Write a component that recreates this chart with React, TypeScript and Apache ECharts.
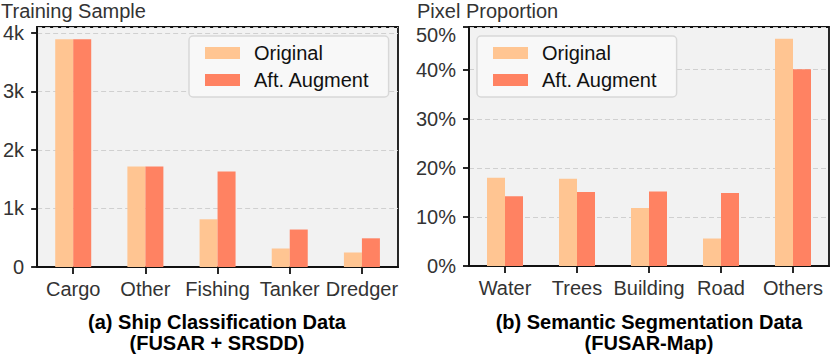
import React, { useEffect, useRef } from "react";
import * as echarts from "echarts";

const shipCategories = ["Cargo", "Other", "Fishing", "Tanker", "Dredger"];
const shipOriginal = [3890, 1716, 815, 316, 248];
const shipAugmented = [3890, 1716, 1630, 640, 490];

const segCategories = ["Water", "Trees", "Building", "Road", "Others"];
const segOriginal = [18.0, 17.8, 11.8, 5.6, 46.3];
const segAugmented = [14.2, 15.1, 15.2, 14.9, 40.1];

const seriesNames = ["Original", "Aft. Augment"];
const colors = ["#FFC592", "#FF8262"];

const FONT = "'Liberation Sans', Arial, Helvetica, sans-serif";

export default function App() {
  const ref = useRef<HTMLDivElement>(null);
  useEffect(() => {
    if (!ref.current) return;
    const chart = echarts.init(ref.current, undefined, { renderer: "svg" });
    const labelStyle = { color: "#333", fontSize: 20, fontFamily: FONT };
    const gridCommon = {
      show: true,
      backgroundColor: "#f2f2f2",
      borderColor: "#111",
      borderWidth: 1.8,
    };
    const xAxisCommon = (idx: number, data: string[]) => ({
      type: "category" as const,
      gridIndex: idx,
      data,
      axisLine: { show: true, lineStyle: { color: "#111", width: 1.8 } },
      axisTick: { show: true, alignWithLabel: true, interval: 0, length: 7, lineStyle: { color: "#111", width: 1.8 } },
      axisLabel: { ...labelStyle, margin: 12, interval: 0, hideOverlap: false },
      splitLine: { show: false },
    });
    const legendCommon = {
      orient: "vertical" as const,
      top: 36,
      padding: [7, 19, 7, 16],
      itemWidth: 35,
      itemHeight: 12,
      itemGap: 7,
      icon: "rect",
      backgroundColor: "#f8f8f8",
      borderColor: "#d8d8d8",
      borderWidth: 1.5,
      borderRadius: 4,
      textStyle: { ...labelStyle, color: "#111", lineHeight: 20, padding: [0, 0, 0, 9] },
      data: seriesNames,
    };
    const barCommon = { type: "bar" as const, barWidth: 18, barGap: "0%" };
    chart.setOption({
      animation: false,
      textStyle: { fontFamily: FONT },
      title: [
        { text: "Training Sample", left: 1, top: 1, padding: 0, textStyle: { ...labelStyle, fontWeight: "normal", lineHeight: 20 } },
        { text: "Pixel Proportion", left: 417, top: 1, padding: 0, textStyle: { ...labelStyle, fontWeight: "normal", lineHeight: 20 } },
        {
          text: "(a) Ship Classification Data\n(FUSAR + SRSDD)",
          left: 217, top: 311, padding: 0, textAlign: "center",
          textStyle: { color: "#000", fontSize: 20, fontWeight: "bold", fontFamily: FONT, lineHeight: 21 },
        },
        {
          text: "(b) Semantic Segmentation Data\n(FUSAR-Map)",
          left: 649, top: 311, padding: 0, textAlign: "center",
          textStyle: { color: "#000", fontSize: 20, fontWeight: "bold", fontFamily: FONT, lineHeight: 21 },
        },
      ],
      legend: [
        { ...legendCommon, left: 189 },
        { ...legendCommon, left: 477 },
      ],
      grid: [
        { ...gridCommon, left: 36, top: 27, width: 362, height: 240 },
        { ...gridCommon, left: 469, top: 27, width: 360, height: 239 },
      ],
      xAxis: [xAxisCommon(0, shipCategories), xAxisCommon(1, segCategories)],
      yAxis: [
        {
          type: "value", gridIndex: 0, min: 0, max: 4100, interval: 1000,
          axisLine: { show: true, lineStyle: { color: "#111", width: 1.8 } },
          axisTick: { show: true, length: 6, lineStyle: { color: "#111", width: 1.8 } },
          axisLabel: {
            ...labelStyle, margin: 13, showMaxLabel: false,
            formatter: (v: number) => (v === 0 ? "0" : v / 1000 + "k"),
          },
          splitLine: { show: true, lineStyle: { color: "#d0d0d0", type: [5, 3], width: 1 } },
        },
        {
          type: "value", gridIndex: 1, min: 0, max: 48.7, interval: 10,
          axisLine: { show: true, lineStyle: { color: "#111", width: 1.8 } },
          axisTick: { show: true, length: 6, lineStyle: { color: "#111", width: 1.8 } },
          axisLabel: {
            ...labelStyle, margin: 13,
            formatter: (v: number) => (v > 45 ? "{t|50%}" : Math.round(v) + "%"),
            rich: { t: { ...labelStyle, padding: [16, 0, 0, 0] } },
          },
          splitLine: { show: true, lineStyle: { color: "#d0d0d0", type: [5, 3], width: 1 } },
        },
      ],
      series: [
        { ...barCommon, name: seriesNames[0], xAxisIndex: 0, yAxisIndex: 0, data: shipOriginal, itemStyle: { color: colors[0] } },
        { ...barCommon, name: seriesNames[1], xAxisIndex: 0, yAxisIndex: 0, data: shipAugmented, itemStyle: { color: colors[1] } },
        { ...barCommon, name: seriesNames[0], xAxisIndex: 1, yAxisIndex: 1, data: segOriginal, itemStyle: { color: colors[0] } },
        { ...barCommon, name: seriesNames[1], xAxisIndex: 1, yAxisIndex: 1, data: segAugmented, itemStyle: { color: colors[1] } },
      ],
    });
    return () => chart.dispose();
  }, []);
  return (
    <div
      ref={ref}
      style={{ position: "absolute", left: 0, top: 0, width: 831, height: 358, background: "#fff" }}
    />
  );
}
